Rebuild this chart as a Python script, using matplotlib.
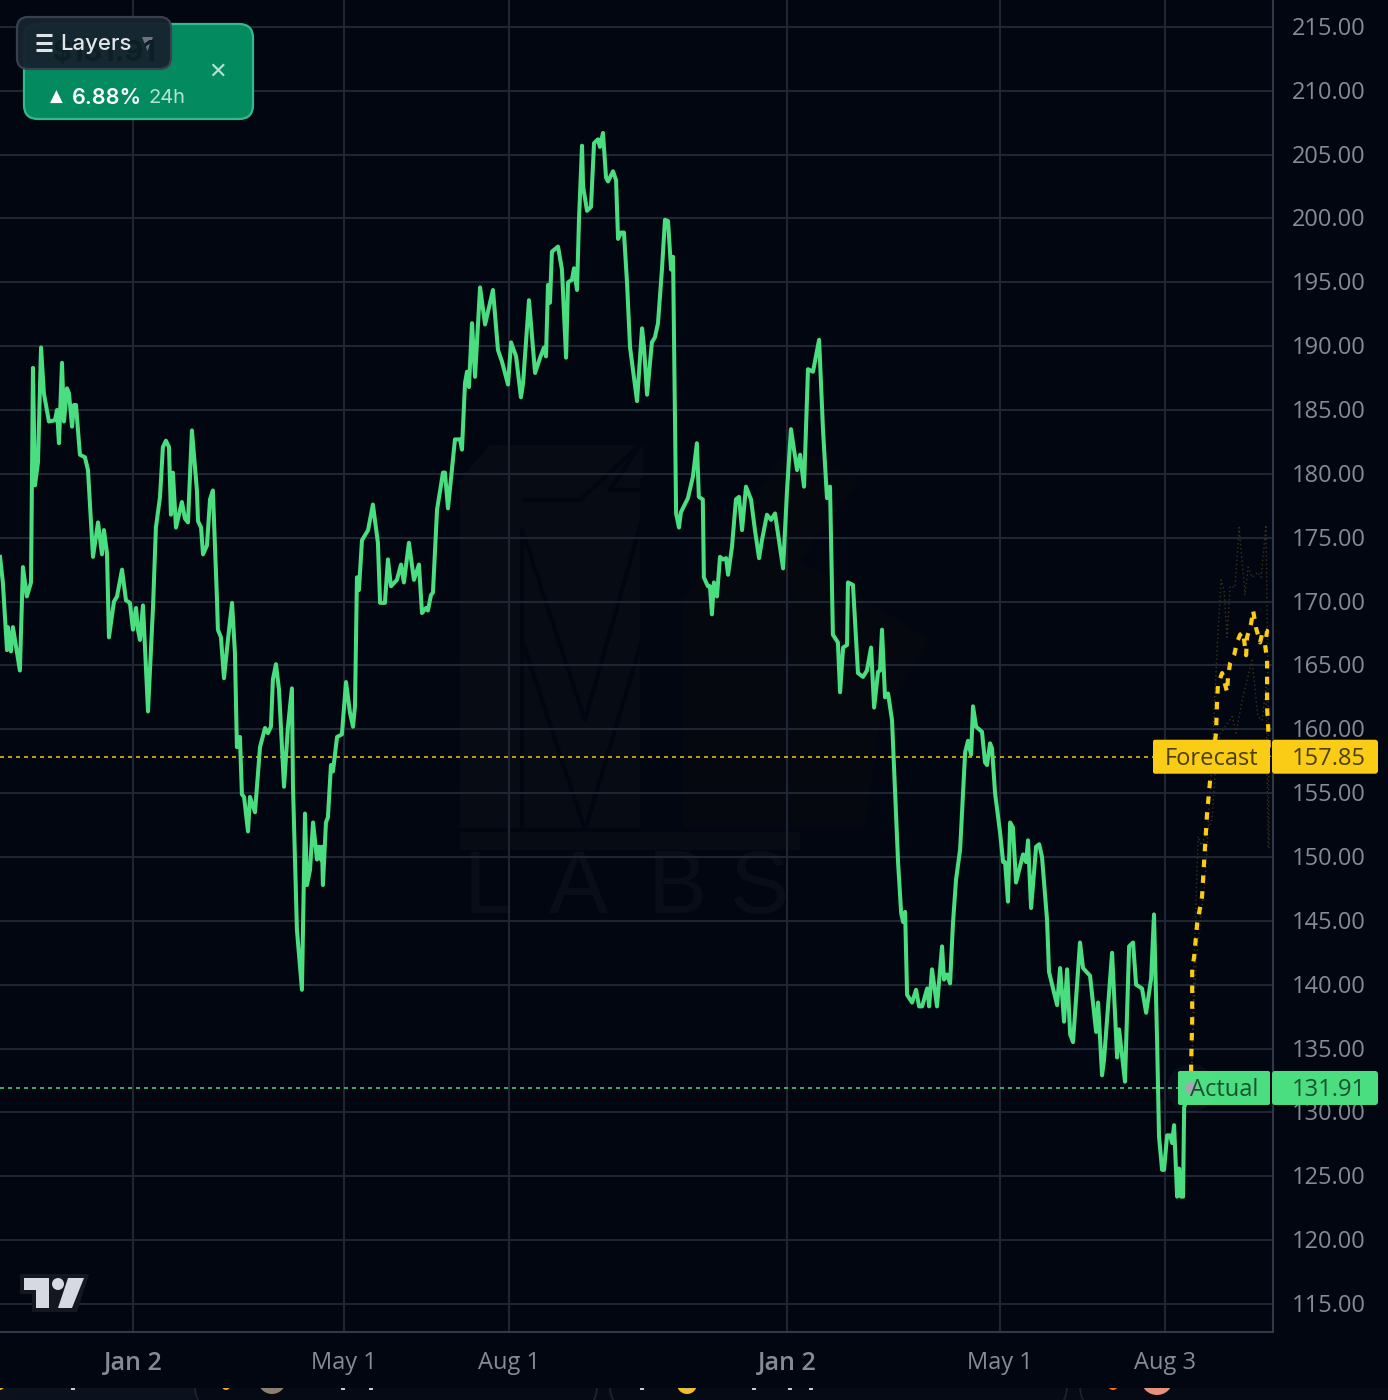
#import necessary libraries
import matplotlib
matplotlib.use('Agg')
import matplotlib.pyplot as plt
from matplotlib.patches import FancyBboxPatch, Polygon, Circle, Rectangle
from matplotlib.transforms import ScaledTranslation

plt.rcParams['font.family'] = ['Open Sans', 'DejaVu Sans']

#days counted from the first "Jan 2" tick, prices in dollars
actual_days = [-74.2,-72.6,-70.3,-69.8,-68.1,-67.0,-63.1,-61.4,-59.2,-56.9,-56.4,-55.8,-54.7,-53.0,-51.3,-49.7,-46.9,-43.5,-42.4,-41.3,
    -39.6,-38.5,-36.8,-35.7,-34.0,-32.9,-31.8,-29.6,-26.8,-25.1,-22.3,-19.5,-17.3,-16.2,-14.5,-13.4,-10.6,-8.9,-6.1,-3.9,
    -1.7,0,1.7,2.8,3.9,5.6,8.4,11.2,12.8,15.1,16.7,18.4,20.1,21.2,22.3,24.0,27.3,29.0,30.7,32.9,
    35.7,36.3,38.0,39.1,41.3,43.0,44.6,46.9,47.4,49.1,50.8,53.0,55.3,56.9,58.0,59.7,60.8,62.0,64.2,65.3,
    68.1,70.9,73.7,75.3,77.0,78.1,79.8,81.5,84.3,86.5,88.7,89.3,91.5,94.3,96.0,97.1,98.8,100.5,102.7,103.8,
    104.9,105.5,106.0,107.7,108.8,110.5,111.6,113.9,116.6,118.9,121.1,122.8,123.9,125.0,126.1,127.8,131.2,133.9,136.7,137.9,
    140.6,142.3,144.0,147.3,149.6,151.2,154.0,156.8,159.6,161.3,163.5,164.6,166.3,167.4,169.7,173.0,174.1,175.8,179.7,182.5,
    183.6,185.3,186.4,187.5,189.2,190.9,193.7,196.5,200.9,203.7,205.9,209.3,211.0,213.8,216.5,217.7,221.0,224.4,227.2,229.4,
    230.5,231.6,232.7,233.8,237.2,239.4,241.7,242.8,245.0,246.1,247.8,248.9,250.6,251.2,253.4,255.6,257.3,259.5,260.6,262.3,
    264.0,265.1,267.9,269.6,270.7,272.4,274.0,275.7,277.4,281.3,284.1,285.2,286.9,289.6,291.3,293.0,295.2,296.9,298.6,300.3,
    301.4,302.5,303.1,304.7,305.8,309.7,312.5,314.7,315.8,318.0,318.6,320.8,322.0,323.1,324.2,325.9,327.6,329.3,331.0,332.1,
    334.3,336.5,338.2,339.9,342.1,344.9,347.1,349.4,351.0,353.8,356.1,358.3,362.8,365.0,367.2,370.6,372.3,374.5,376.7,379.5,
    382.9,385.1,387.3,389.0,390.6,393.4,394.6,396.3,398.5,399.0,401.8,404.6,407.4,409.6,411.9,413.6,415.8,416.9,418.0,419.7,
    421.4,423.6,425.3,427.0,428.7,429.8,430.9,432.0,434.8,437.0,438.7,440.4,443.2,444.3,445.9,448.7,451.5,452.6,454.3,456.0,
    457.6,459.3,461.6,464.4,466.0,467.7,468.8,470.5,473.8,475.5,476.6,478.3,479.4,481.1,483.9,485.6,486.7,488.3,489.5,491.1,
    492.8,496.7,498.4,499.5,501.2,504.0,505.7,507.3,510.1,511.2,515.7,517.4,519.6,521.3,523.0,524.6,528.5,530.2,534.1,537.5,
    538.6,540.8,541.9,546.4,549.2,550.3,553.6,555.9,558.1,559.8,563.1,565.4,568.2,569.8,571.5,572.6,574.3,575.4,577.1,578.8,
    579.9,581.0,582.7,583.8,584.9,586.0,586.6,590.5]
actual_prices = [173.5,171.5,166.2,168.0,166.1,168.0,164.6,172.7,170.4,171.5,179.0,188.3,179.1,180.9,189.9,186.3,184.1,184.2,185.0,182.4,
    188.7,184.1,186.7,186.3,183.7,185.4,185.4,181.5,181.3,180.3,173.5,176.2,173.7,175.6,173.8,167.2,170.0,170.4,172.5,170.1,
    169.9,167.8,169.5,167.8,167.0,169.7,161.4,169.6,175.8,178.2,182.1,182.6,182.1,176.8,180.1,175.8,177.8,176.5,176.2,183.4,
    178.7,176.3,175.8,173.7,174.4,178.0,178.7,170.1,167.8,167.2,164.0,167.0,169.9,166.0,158.6,159.4,154.9,154.7,152.0,154.7,
    153.5,158.6,160.1,159.7,160.2,163.9,165.1,163.1,155.5,160.2,163.2,155.5,144.3,139.6,153.4,147.8,149.0,152.7,149.8,150.8,
    149.8,150.8,147.8,152.7,153.1,157.2,156.7,159.4,159.6,163.7,161.3,160.2,161.8,171.9,170.9,174.8,175.6,177.6,174.6,169.9,
    169.9,173.3,171.2,171.7,172.9,171.5,174.6,171.7,172.9,169.1,169.5,169.3,170.5,170.7,177.2,180.1,180.1,177.3,182.7,182.7,
    181.9,187.1,188.0,186.8,191.8,187.6,194.6,191.7,194.4,189.7,188.8,187.0,190.3,189.2,186.0,187.1,193.6,187.9,189.1,189.9,
    189.2,194.8,193.4,197.4,197.8,196.0,189.1,195.0,195.2,196.1,194.4,199.9,205.7,202.5,200.6,200.9,205.9,206.2,205.6,206.7,
    203.2,202.9,203.7,203.0,198.4,198.9,198.9,195.0,189.9,185.7,191.4,189.9,186.2,190.3,190.7,191.8,196.0,199.9,199.8,196.0,
    197.0,184.2,176.9,175.8,177.0,178.1,179.8,182.4,178.2,178.0,171.9,171.2,171.2,169.0,171.5,170.4,173.5,173.3,173.4,172.1,
    174.3,178.0,178.2,175.6,179.0,178.0,175.6,173.4,174.8,176.8,176.4,176.9,172.6,178.7,183.5,180.3,181.5,179.0,188.2,188.0,
    190.5,183.4,178.1,179.0,167.4,166.8,162.9,166.4,166.6,171.5,171.3,164.4,164.1,164.6,166.4,161.7,164.5,164.6,167.8,162.5,
    162.8,160.7,155.2,149.5,145.6,144.9,145.7,139.2,138.6,139.6,138.3,138.3,139.7,138.3,141.2,138.3,143.0,140.4,140.8,140.1,
    144.8,148.2,150.6,158.2,159.1,158.0,161.8,160.2,159.8,157.4,157.2,158.9,158.5,155.0,151.9,149.6,149.6,146.5,152.7,152.3,
    148.0,150.2,149.6,151.3,146.0,150.8,151.0,150.0,145.1,141.0,138.4,141.3,137.1,141.2,136.1,135.5,143.3,141.3,140.7,136.3,
    138.6,132.9,134.1,142.5,134.3,136.5,132.4,143.0,143.3,140.0,139.7,137.8,140.5,145.5,135.7,128.1,125.5,125.5,128.2,128.2,
    127.6,129.0,123.4,125.6,123.4,123.4,130.4,131.91]

forecast_days = [590.5,590.5,591.1,591.1,592.2,593.9,596.6,597.7,599.4,601.1,604.4,605.0,605.5,607.8,610.6,611.1,612.3,614.5,616.1,617.8,
    619.5,621.2,621.7,624.0,625.1,626.8,629.0,630.7,632.9,631.8,632.9,632.9,632.9,633.5,634.0]
forecast_prices = [131.91,133.6,137.2,141.2,142.2,144.8,146.9,149.5,153.4,156.0,159.7,162.3,163.5,164.4,162.9,164.1,165.2,165.8,166.8,167.4,
    167.6,165.8,167.2,168.3,169.3,167.9,166.8,167.8,167.7,166.6,165.4,164.1,161.7,160.2,157.85]

upper_days = [590.5,593.3,598.3,602.1,605.0,607.2,608.9,610.6,612.3,615.0,617.3,620.6,622.3,624.5,627.8,629.6,632.3,633.5,634.0]
upper_prices = [131.9,141.9,148.2,157.6,166.2,171.7,170.9,167.2,171.2,171.1,175.8,170.5,172.7,171.9,172.3,171.9,176.0,162.3,150.7]
lower_days = [590.5,592.2,594.4,596.1,602.1,604.4,606.6,613.4,615.6,619.0,624.5,627.8,630.1,632.3,633.5]
lower_prices = [131.9,141.9,151.6,150.9,152.9,157.6,159.6,161.0,159.7,162.3,165.4,161.0,160.7,163.3,150.7]

actual_last = 131.91
forecast_last = 157.85

x_ticks = [0,118,210,365,484,576]
x_labels = ['Jan 2','May 1','Aug 1','Jan 2','May 1','Aug 3']
y_ticks = list(range(115,220,5))

bg = '#020611'
grid = '#1e2533'
axis_line = '#2e3848'
label_col = '#868a94'
green = '#4ade80'
yellow = '#facc15'
W = 1388
H = 1400

fig = plt.figure(figsize=(W/100,H/100),dpi=100,facecolor=bg)

#pixel axes behind the chart for the faint watermark
back = fig.add_axes([0,0,1,1],zorder=0)
back.set_xlim(0,W)
back.set_ylim(H,0)
back.axis('off')
mark = '#070b14'
back.add_patch(Polygon([(460,480),(490,445),(643,445),(643,828),(460,828)],color=mark,lw=0))
back.add_patch(Polygon([(683,600),(790,445),(860,480),(800,560),(930,640),(880,720),(865,828),(683,828)],color='#05080f',lw=0))
back.plot([522,585,642],[530,720,520],color=bg,lw=3)
back.plot([522,585,642],[640,830,640],color=bg,lw=3)
back.plot([522,522],[530,828],color=bg,lw=3)
back.plot([642,642],[480,828],color=bg,lw=3)
back.plot([525,580,640,610,640],[500,500,445,490,490],color=bg,lw=3)
back.add_patch(Rectangle((460,832),340,18,color=mark,lw=0))
for letter,cx in zip('LABS',[488,578,677,760]):
    back.text(cx,890,letter,color='#090d17',fontsize=64,ha='center',va='center',family='Liberation Sans')
#bottom strip of the page under the chart
back.add_patch(Rectangle((0,1388),W,12,color='#060a15',lw=0))
back.add_patch(Rectangle((0,1388),195,12,color='#0b111d',lw=0))
for x0,x1 in [(195,597),(610,1067),(1080,1440)]:
    back.add_patch(FancyBboxPatch((x0,1340),x1-x0,70,boxstyle='round,pad=0,rounding_size=24',fc='#060a15',ec='#1c2533',lw=1.2,mutation_scale=1))
for x,y,r,c in [(0,1386,4,'#f5a623'),(226,1386,4,'#f5a623'),(272,1380,14,'#8a7e70'),(687,1384,10,'#f0c020'),(687,1384,5,'#d8a0b0'),(1113,1385,5,'#f5701a'),(1157,1379,16,'#e8907a')]:
    back.add_patch(Circle((x,y),r,color=c,lw=0,zorder=3))
for x in [73,343,371,642,754,790,811]:
    back.add_patch(Rectangle((x-2,1388),4,2,color='#c8cbd2',lw=0,zorder=3))
back.add_patch(Rectangle((0,1332),W,56,color=bg,lw=0,zorder=4))

#the chart itself
ax = fig.add_axes([0,(H-1332)/H,1273/W,1332/H],zorder=1,facecolor='none')
ax.set_xlim(-74.2,636.2)
ax.set_ylim(112.8,217.11)
ax.grid(True,color=grid,lw=1.5)
ax.set_axisbelow(True)
ax.set_xticks(x_ticks)
ax.set_xticklabels(x_labels)
ax.set_yticks(y_ticks)
ax.set_yticklabels(['%.2f' % v for v in y_ticks])
ax.yaxis.tick_right()
ax.tick_params(length=0,colors=label_col,labelsize=17)
ax.tick_params(axis='y',pad=13.5)
ax.tick_params(axis='x',pad=13.5)
for lab in ax.get_yticklabels():
    lab.set_transform(lab.get_transform()+ScaledTranslation(0,1/100,fig.dpi_scale_trans))
for lab in ax.get_xticklabels():
    if lab.get_text()=='Jan 2':
        lab.set_fontweight('semibold')
        lab.set_fontsize(18)
for s in ['top','left']:
    ax.spines[s].set_visible(False)
for s in ['right','bottom']:
    ax.spines[s].set_color(axis_line)
    ax.spines[s].set_linewidth(1.5)

ax.axhline(forecast_last,color=yellow,lw=1.2,ls=(0,(2.4,2.4)),alpha=0.9)
ax.axhline(actual_last,color=green,lw=1.2,ls=(0,(2.4,2.4)),alpha=0.9)
ax.plot(upper_days,upper_prices,color='#3a3416',lw=1,ls=(0,(1,2)))
ax.plot(lower_days,lower_prices,color='#3a3416',lw=1,ls=(0,(1,2)))
ax.plot(actual_days,actual_prices,color=green,lw=2.9,solid_joinstyle='round')
ax.plot(forecast_days,forecast_prices,color=yellow,lw=3,ls=(0,(1.8,2)))

#overlay in pixels for the labels and the page widgets
top = fig.add_axes([0,0,1,1],zorder=2,facecolor='none')
top.set_xlim(0,W)
top.set_ylim(H,0)
top.axis('off')

def price_px(v):
    return ax.transData.transform((0,v))[1]*-1+H

def price_tag(v,name,col,name_left,textcol):
    y = price_px(v)
    top.add_patch(FancyBboxPatch((name_left,y-17),1270-name_left,34,boxstyle='round,pad=0,rounding_size=2',fc=col,ec='none',mutation_scale=1))
    top.add_patch(FancyBboxPatch((1272,y-17),106,34,boxstyle='round,pad=0,rounding_size=3',fc=col,ec='none',mutation_scale=1))
    top.text((name_left+1270)/2,y+2,name,color=textcol,fontsize=17,ha='center',va='center')
    top.text(1328.5,y+2,'%.2f' % v,color=textcol,fontsize=17,ha='center',va='center')

price_tag(forecast_last,'Forecast',yellow,1153,'#4b3f0a')
price_tag(actual_last,'Actual',green,1178,'#17512f')
y = price_px(actual_last)
top.add_patch(Circle((1191,y),24,color='white',alpha=0.03,lw=0))
top.add_patch(Circle((1191,y),6,color='#a4a7b1',lw=0))

#green price card with the layers button on top of it
top.add_patch(FancyBboxPatch((24,24),229,95,boxstyle='round,pad=0,rounding_size=14',fc='#038a5e',ec='#34b98c',lw=1.6,mutation_scale=1))
top.text(105,54,'$131.91',color='#0b1f24',fontsize=21,ha='center',va='center',family='Inter',fontweight='bold')
top.text(56,97,'▲',color='white',fontsize=12,ha='center',va='center',family='DejaVu Sans')
top.text(72,98,'6.88%',color='white',fontsize=15.5,ha='left',va='center',family='Inter',fontweight='semibold')
top.text(149,98,'24h',color='#b5e2d2',fontsize=14.5,ha='left',va='center',family='Inter')
top.text(218,72,'✕',color='#b5e2d2',fontsize=16,ha='center',va='center',family='DejaVu Sans')
top.add_patch(FancyBboxPatch((17,17),154,52,boxstyle='round,pad=0,rounding_size=11',fc='#16242f',ec='#3a4252',lw=1.6,alpha=0.97,mutation_scale=1))
for yy in [35,43,50]:
    top.plot([36,52],[yy,yy],color='#e0e3e8',lw=2.2,solid_capstyle='butt')
top.text(60,44,'Layers',color='#e0e3e8',fontsize=16,ha='left',va='center',family='Inter',fontweight='medium')
top.add_patch(Polygon([(142,37),(153,37),(147.5,51)],color='#6e7280',lw=0))

#tradingview logo
top.add_patch(Polygon([(20,1274),(89,1274),(77,1312),(32,1312),(32,1294),(20,1294)],color='#14171f',lw=0))
top.add_patch(Polygon([(24,1278),(49,1278),(49,1308),(36,1308),(36,1290),(24,1290)],color='#d6d9e2',lw=0))
top.add_patch(Circle((58,1284),6,color='#d6d9e2',lw=0))
top.add_patch(Polygon([(68,1278),(84,1278),(72,1308),(58,1308)],color='#d6d9e2',lw=0))

plt.savefig('out.png',dpi=100,facecolor=fig.get_facecolor())
